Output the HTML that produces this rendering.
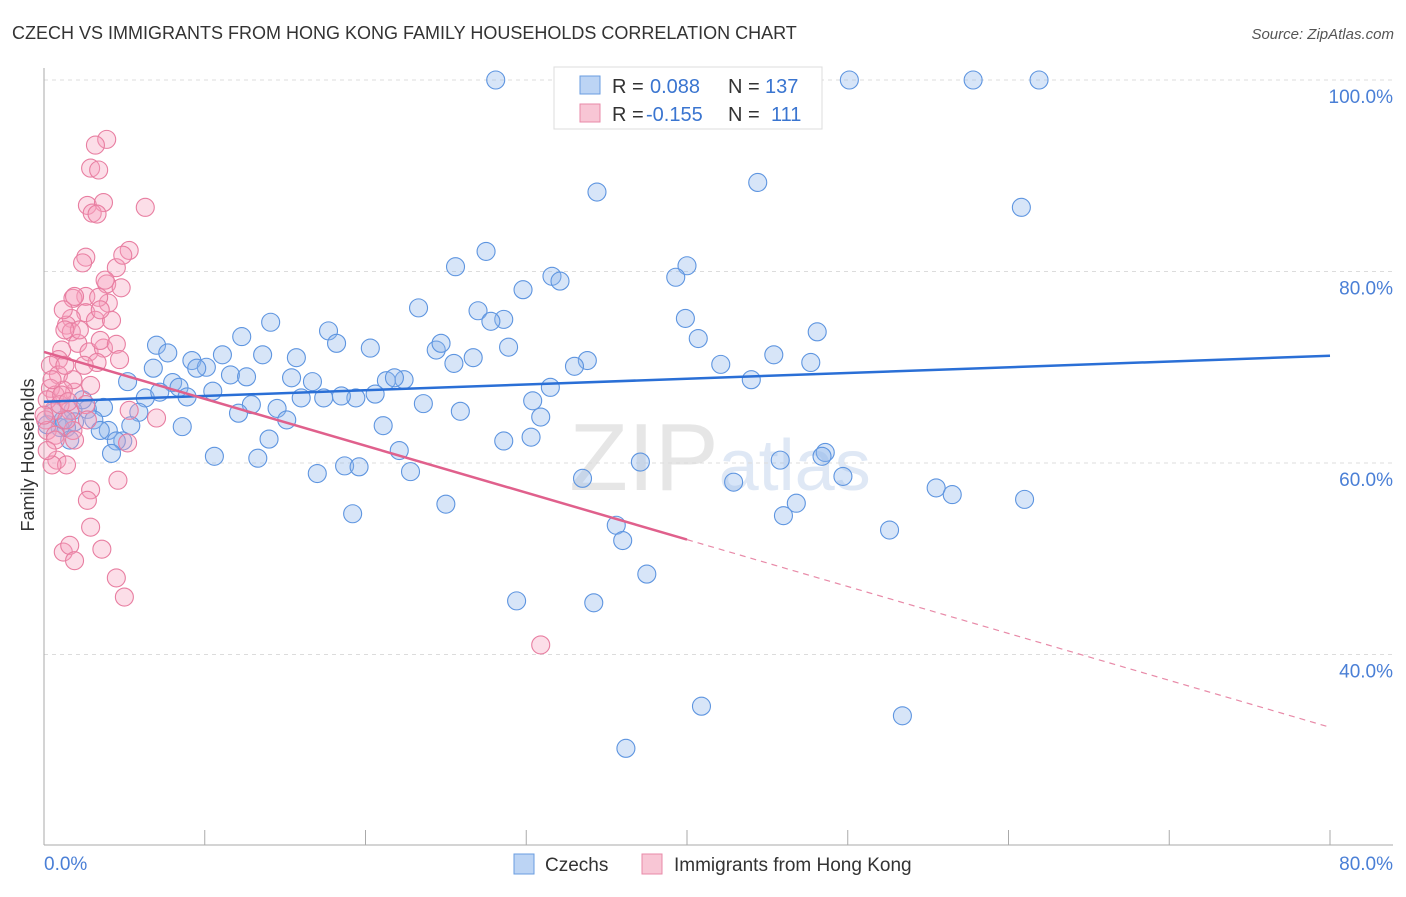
<!DOCTYPE html>
<html><head><meta charset="utf-8"><style>
body{margin:0;background:#fff;font-family:"Liberation Sans",sans-serif}
svg text{font-family:"Liberation Sans",sans-serif}
</style></head><body>
<svg id="chart" width="1406" height="892" viewBox="0 0 1406 892" xmlns="http://www.w3.org/2000/svg">
<text x="12" y="39" font-size="18" fill="#333">CZECH VS IMMIGRANTS FROM HONG KONG FAMILY HOUSEHOLDS CORRELATION CHART</text>
<text x="1394" y="39" font-size="15" fill="#555" text-anchor="end" font-style="italic">Source: ZipAtlas.com</text>
<text x="720" y="490" font-size="96" fill="#e6e6e6" text-anchor="middle" font-family="Liberation Serif"><tspan>ZIP</tspan><tspan font-family="Liberation Sans" font-size="72" fill="#dfe8f5">atlas</tspan></text>
<g id="grid"></g>
<g id="axes"></g>
<g id="points"></g>
<g id="trends"></g>
<text transform="translate(34,455) rotate(-90)" font-size="18" fill="#333" text-anchor="middle">Family Households</text>
<g>
<rect x="554" y="67" width="268" height="62" fill="#fff" stroke="#ddd"/>
<rect x="580" y="76" width="20" height="18" fill="#bcd4f4" stroke="#6a9de0"/>
<text x="612" y="93" font-size="20" fill="#333">R = </text><text x="650" y="93" font-size="20" fill="#3a75d0">0.088</text>
<text x="728" y="93" font-size="20" fill="#333">N = </text><text x="765" y="93" font-size="20" fill="#3a75d0">137</text>
<rect x="580" y="104" width="20" height="18" fill="#f8c6d5" stroke="#e88aa8"/>
<text x="612" y="121" font-size="20" fill="#333">R = </text><text x="646" y="121" font-size="20" fill="#3a75d0">-0.155</text>
<text x="728" y="121" font-size="20" fill="#333">N = </text><text x="771" y="121" font-size="20" fill="#3a75d0">111</text>
</g>
<g>
<rect x="514" y="854" width="20" height="20" fill="#bcd4f4" stroke="#6a9de0"/>
<text x="545" y="871" font-size="19" fill="#333">Czechs</text>
<rect x="642" y="854" width="20" height="20" fill="#f8c6d5" stroke="#e88aa8"/>
<text x="674" y="871" font-size="19" fill="#333">Immigrants from Hong Kong</text>
</g>
</svg>
<script>
const xTicksPct=[0,10,20,30,40,50,60,70,80];
const yGridVals=[100,80,60,40];
const yTickLabels=["100.0%","80.0%","60.0%","40.0%"];
const xEndLabels=["0.0%","80.0%"];
const czechX=[28.1,41.6,50.1,57.8,61.9,34.4,44.4,60.8,27.5,25.6,40.0,39.3,31.6,32.1,29.8,23.3,27.0,28.6,27.8,39.9,14.1,17.7,48.1,12.3,40.7,7.0,18.2,20.3,28.9,24.4,24.7,7.7,11.1,13.6,15.7,9.2,45.4,26.7,25.5,33.8,33.0,47.7,42.1,6.8,10.1,9.5,11.6,12.6,8.0,5.2,8.4,10.5,15.4,16.7,21.3,22.4,21.8,31.5,44.0,6.3,8.9,16.0,17.4,19.4,18.5,20.6,30.4,23.6,12.9,2.7,3.7,1.8,5.9,12.1,14.5,25.9,30.9,3.1,1.9,15.1,21.1,8.6,5.4,4.0,1.4,28.6,30.3,14.0,4.9,4.5,4.2,22.1,13.3,10.6,45.8,48.6,48.4,37.1,17.0,18.7,19.6,22.8,33.5,42.9,49.7,55.5,56.5,61.0,46.8,46.0,25.0,19.2,35.6,36.0,52.6,37.5,29.4,34.2,40.9,53.4,36.2,3.5,1.0,0.6,2.4,1.2,0.2,1.6,7.2];
const czechY=[100,100,100,100,100,88.3,89.3,86.7,82.1,80.5,80.6,79.4,79.5,79.0,78.1,76.2,75.9,75.0,74.8,75.1,74.7,73.8,73.7,73.2,73.0,72.3,72.5,72.0,72.1,71.8,72.5,71.5,71.3,71.3,71.0,70.7,71.3,71.0,70.4,70.7,70.1,70.5,70.3,69.9,70.0,69.9,69.2,69.0,68.4,68.5,67.9,67.5,68.9,68.5,68.6,68.7,68.9,67.9,68.7,66.8,66.9,66.8,66.8,66.8,67.0,67.2,66.5,66.2,66.1,65.6,65.8,65.5,65.3,65.2,65.7,65.4,64.8,64.5,64.3,64.5,63.9,63.8,63.9,63.4,63.7,62.3,62.7,62.5,62.3,62.3,61.0,61.3,60.5,60.7,60.3,61.1,60.7,60.1,58.9,59.7,59.6,59.1,58.4,58.0,58.6,57.4,56.7,56.2,55.8,54.5,55.7,54.7,53.5,51.9,53.0,48.4,45.6,45.4,34.6,33.6,30.2,63.4,63.7,65.3,66.6,64.5,64.0,62.4,67.4];
const hkX=[3.9,3.2,2.9,3.4,2.7,3.7,3.0,3.3,6.3,5.3,2.6,2.4,4.5,4.9,3.9,4.8,2.6,4.0,3.4,1.8,2.6,1.7,1.4,1.7,1.2,3.2,2.1,2.8,3.7,3.5,4.5,1.1,0.9,0.4,0.9,1.9,2.9,1.8,3.3,1.2,1.3,0.4,0.7,0.6,0.1,0.2,0.7,0.8,1.4,0.5,1.6,2.6,5.2,1.8,7.0,2.9,2.7,4.6,2.9,1.2,1.6,3.6,1.9,4.5,5.0,30.9,1.4,0.2,1.0,0.0,0.7,2.2,4.2,1.1,1.5,0.5,2.5,4.7,1.9,3.8,3.5,1.3,2.7,1.9,5.3,0.2];
const hkY=[93.8,93.2,90.8,90.6,86.9,87.2,86.1,86.0,86.7,82.2,81.5,80.9,80.4,81.7,78.7,78.3,77.4,76.7,77.3,77.2,75.7,75.1,74.4,73.7,76.0,74.9,72.5,71.6,72.0,72.8,72.4,71.8,70.8,70.2,69.2,67.4,68.1,68.7,70.5,67.6,70.2,67.8,67.1,65.5,64.5,63.4,62.9,60.3,59.8,59.8,65.5,66.1,62.1,63.4,64.7,57.2,56.1,58.2,53.3,50.7,51.4,51.0,49.8,48.0,46.0,41.0,64.5,66.6,66.1,65.0,62.4,73.9,74.9,67.1,66.4,68.7,70.2,70.8,77.4,79.1,76.0,73.9,64.5,62.4,65.5,61.3];
const czechTrend=[66.4,0.06];   // intercept, slope
const hkTrend=[71.6,-0.49];
const hkSolidEnd=40;

const NS="http://www.w3.org/2000/svg";
const X0=44,X1=1330,YTOP=80,PX20=191.5;
function sx(v){return X0+(X1-X0)*v/80;}
function sy(v){return YTOP+(100-v)*PX20/20;}
function mk(tag,attrs,parent){const e=document.createElementNS(NS,tag);for(const k in attrs)e.setAttribute(k,attrs[k]);parent.appendChild(e);return e;}
const grid=document.getElementById('grid'),axes=document.getElementById('axes'),pts=document.getElementById('points'),tr=document.getElementById('trends');
yGridVals.forEach((v,i)=>{
  const l=mk('line',{x1:X0,x2:1393,y1:sy(v),y2:sy(v),stroke:'#dcdcdc','stroke-dasharray':'4,4'},grid);
  
  
  const t=mk('text',{x:1393,y:sy(v)+23,'font-size':19,fill:'#4a7fd6','text-anchor':'end'},grid);
  t.textContent=yTickLabels[i];
  
  
});
const ax=mk('line',{x1:X0,x2:1393,y1:845,y2:845,stroke:'#aaa'},axes);


const ay=mk('line',{x1:X0,x2:X0,y1:68,y2:845,stroke:'#aaa'},axes);


xTicksPct.forEach(v=>{
  const t=mk('line',{x1:sx(v),x2:sx(v),y1:830,y2:845,stroke:'#aaa'},axes);
  
  
});
[[0,'start'],[80,'end']].forEach((p,i)=>{
  const t=mk('text',{x:i?1393:44,y:870,'font-size':19,fill:'#4a7fd6','text-anchor':p[1]},axes);
  t.textContent=xEndLabels[i];
  
  
});
czechX.forEach((x,i)=>{
  const c=mk('circle',{cx:sx(x),cy:sy(czechY[i]),r:9,fill:'rgba(140,180,235,0.35)',stroke:'#5e95e0','stroke-width':1.1},pts);
  
  
});
hkX.forEach((x,i)=>{
  const c=mk('circle',{cx:sx(x),cy:sy(hkY[i]),r:9,fill:'rgba(245,160,190,0.35)',stroke:'#e87ea1','stroke-width':1.1},pts);
  
  
});
const bt=mk('line',{x1:sx(0),y1:sy(czechTrend[0]),x2:sx(80),y2:sy(czechTrend[0]+czechTrend[1]*80),stroke:'#2a6fd6','stroke-width':2.5},tr);


const pt=mk('line',{x1:sx(0),y1:sy(hkTrend[0]),x2:sx(hkSolidEnd),y2:sy(hkTrend[0]+hkTrend[1]*hkSolidEnd),stroke:'#e0608c','stroke-width':2.5},tr);


const pd=mk('line',{x1:sx(hkSolidEnd),y1:sy(hkTrend[0]+hkTrend[1]*hkSolidEnd),x2:sx(80),y2:sy(hkTrend[0]+hkTrend[1]*80),stroke:'#e88aa8','stroke-width':1.2,'stroke-dasharray':'6,5'},tr);


</script>
</body></html>
